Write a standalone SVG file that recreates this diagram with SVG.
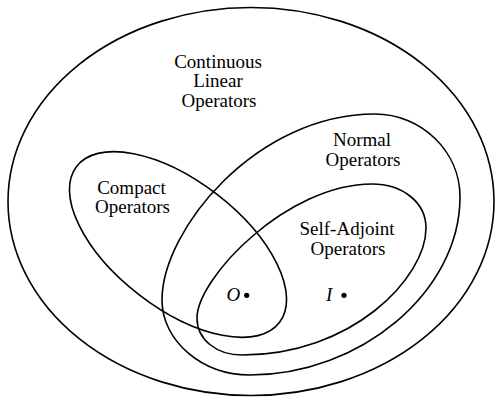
<svg xmlns="http://www.w3.org/2000/svg" width="495" height="398" viewBox="0 0 495 398">
<style>
.set{fill:none;stroke:#000;stroke-width:1.6}
text{font-family:"Liberation Serif","Times New Roman",serif;font-size:19px;fill:#000;text-anchor:middle}
.it{font-style:italic;text-anchor:start}
</style>
<rect width="495" height="398" fill="#fff"/>
<g id="continuous">
<ellipse class="set" cx="251" cy="201.5" rx="243" ry="194"/>
<text x="218" y="67.5">Continuous</text>
<text x="218" y="87">Linear</text>
<text x="219" y="106.5">Operators</text>
</g>
<g id="compact">
<ellipse class="set" cx="178" cy="244.5" rx="128" ry="63.5" transform="rotate(37.6 178 244.5)"/>
<text x="131.5" y="193.5">Compact</text>
<text x="132.5" y="212.5">Operators</text>
</g>
<g id="normal">
<path class="set" d="M375,114 C421,114 460,151 460,197 C460,292 360,375 250,375 C202,375 162,341 162,300 C162,230 256,114 375,114 Z"/>
<text x="362" y="146">Normal</text>
<text x="363" y="165.5">Operators</text>
</g>
<g id="selfadjoint">
<path class="set" d="M372,184 C402,184 426,202 426,228 C426,278 352,355 242,355 C217,355 197,340 197,318 C197,278 287,184 372,184 Z"/>
<text x="347" y="235">Self-Adjoint</text>
<text x="348" y="255">Operators</text>
</g>
<g id="zero">
<text class="it" x="226.5" y="300.5">O</text>
<circle cx="246.7" cy="295.3" r="2.6"/>
</g>
<g id="identity">
<text class="it" x="326" y="300.5">I</text>
<circle cx="344" cy="295.3" r="2.6"/>
</g>
<g id="connectors"></g>
</svg>
